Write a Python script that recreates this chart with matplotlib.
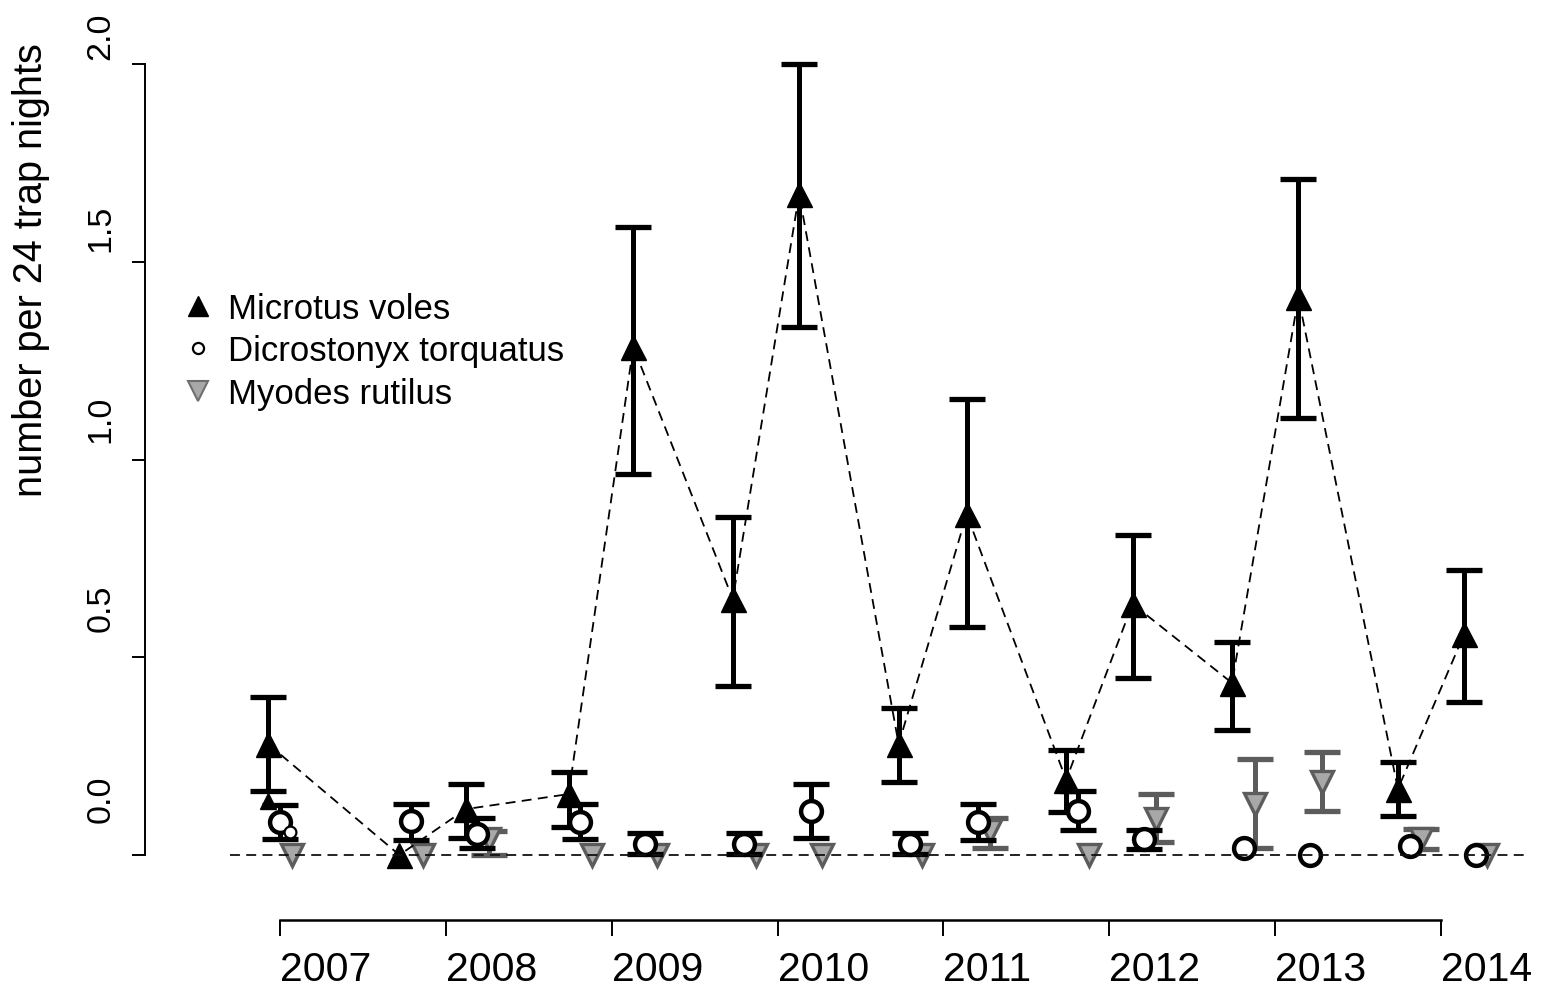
import numpy as np
import matplotlib
matplotlib.use("Agg")
from matplotlib import pyplot as plt
from matplotlib import font_manager
from matplotlib import transforms
from matplotlib.lines import Line2D

nan = np.nan

# sampling sessions (decimal year) and trapping indices
dates = [2006.93, 2007.72, 2008.12, 2008.74, 2009.13, 2009.73, 2010.13, 2010.73,
         2011.14, 2011.74, 2012.14, 2012.74, 2013.14, 2013.74, 2014.14]

microtus = [0.28, 0.0, 0.116, 0.154, 1.285, 0.647, 1.671, 0.28,
            0.862, 0.19, 0.635, 0.435, 1.41, 0.167, 0.559]
microtus_hi = [0.40, nan, 0.18, 0.21, 1.588, 0.855, 2.0, 0.372,
               1.153, 0.265, 0.81, 0.539, 1.709, 0.235, 0.72]
microtus_lo = [0.162, nan, 0.043, 0.071, 0.963, 0.427, 1.335, 0.185,
               0.576, 0.109, 0.448, 0.316, 1.105, 0.099, 0.387]

dicro = [0.083, 0.085, 0.053, 0.083, 0.028, 0.028, 0.111, 0.028,
         0.083, 0.111, 0.04, 0.018, 0.0, 0.023, 0.0]
dicro_hi = [0.126, 0.13, 0.094, 0.129, 0.055, 0.056, 0.18, 0.056,
            0.13, 0.162, 0.063, nan, nan, nan, nan]
dicro_lo = [0.04, 0.038, 0.018, 0.04, 0.003, 0.003, 0.043, 0.003,
            0.038, 0.063, 0.015, nan, nan, nan, nan]

myodes = [0.0, 0.0, 0.04, 0.0, 0.0, 0.0, 0.0, 0.0,
          0.06, 0.0, 0.091, 0.129, 0.185, 0.04, 0.0]
myodes_hi = [nan, nan, 0.06, nan, nan, nan, nan, nan,
             0.094, nan, 0.154, 0.243, 0.26, 0.066, nan]
myodes_lo = [nan, nan, 0.0, nan, nan, nan, nan, nan,
             0.018, nan, 0.033, 0.017, 0.112, 0.015, nan]

# two small leftover symbols at the first session
extra_microtus = [0.137]
extra_dicro = [0.058]

years = [2007, 2008, 2009, 2010, 2011, 2012, 2013, 2014]
yticks = [0.0, 0.5, 1.0, 1.5, 2.0]

names = {f.name for f in font_manager.fontManager.ttflist}
base = "Liberation Sans" if "Liberation Sans" in names else "DejaVu Sans"
narrow = "Liberation Sans Narrow" if "Liberation Sans Narrow" in names else base
year_size = 33 if narrow != base else 29.5
plt.rcParams["font.family"] = [base, "DejaVu Sans"]

W, H = 1543, 987
fig = plt.figure(figsize=(W / 100, H / 100), dpi=100)
ax = fig.add_axes([230 / W, 1 - 888 / H, 1300 / W, 855 / H])
px = 0.72  # points per pixel at dpi 100

d = np.array(dates)
dark_grey = "#5c5c5c"


def bars(x, m, lo, hi, color, z):
    m, lo, hi = np.array(m), np.array(lo), np.array(hi)
    ok = ~np.isnan(lo)
    ax.errorbar(x[ok], m[ok], yerr=[m[ok] - lo[ok], hi[ok] - m[ok]], fmt="none",
                ecolor=color, elinewidth=3.6, capsize=13.3, capthick=3.8, zorder=z)


# Myodes rutilus
bars(d + 0.14, myodes, myodes_lo, myodes_hi, dark_grey, 2)
ax.plot(d + 0.14, myodes, "v", ms=16, mfc="#a8a8a8", mec=dark_grey, mew=2.4,
        ls="none", zorder=2.5)

# Microtus voles
ax.plot(d, microtus, color="black", lw=1.3, dashes=(5.5, 3.5), zorder=3)
bars(d, microtus, microtus_lo, microtus_hi, "black", 3)
ax.plot(d, microtus, "^", ms=18, color="black", ls="none", zorder=3.5)
ax.plot(d[:1], extra_microtus, "^", ms=11, color="black", ls="none", zorder=3.5)

# Dicrostonyx torquatus
bars(d + 0.07, dicro, dicro_lo, dicro_hi, "black", 4)
ax.plot(d + 0.07, dicro, "o", ms=15, mfc="white", mec="black", mew=3.2,
        ls="none", zorder=4.5)
ax.plot(d[:1] + 0.13, extra_dicro, "o", ms=8.5, mfc="white", mec="black", mew=1.6,
        ls="none", zorder=4.6)

ax.axhline(0, color="#111111", lw=1.3, dashes=(5.5, 3.5), zorder=6)

ax.set_xlim(2007 - 50 / 165.86, 2007 + 1250 / 165.86)
ax.set_ylim(-32 / 395.5, 823 / 395.5)

for s in ["top", "right"]:
    ax.spines[s].set_visible(False)
ax.spines["left"].set_position(("outward", 85 * px))
ax.spines["left"].set_bounds(0, 2)
ax.spines["left"].set_linewidth(1.4)
ax.spines["bottom"].set_position(("outward", 33 * px))
ax.spines["bottom"].set_bounds(2007, 2014)
ax.spines["bottom"].set_linewidth(1.8)

ax.set_yticks(yticks)
ax.set_yticklabels([f"{v:.1f}" for v in yticks], rotation=90, va="center",
                   fontsize=24.5)
ax.tick_params(axis="y", length=13 * px, width=1.4, pad=11)
# in the original the tick labels sit a bit above their ticks
for tick, shift in zip(ax.yaxis.get_major_ticks(), [57, 50, 41, 34, 29]):
    lab = tick.label1
    lab.set_transform(lab.get_transform() +
                      transforms.ScaledTranslation(0, shift / 100, fig.dpi_scale_trans))

ax.set_xticks(years)
ax.set_xticklabels([str(y) for y in years], ha="left", fontsize=year_size,
                   family=[narrow, "DejaVu Sans"])
ax.tick_params(axis="x", length=16 * px, width=1.4, pad=10)

ax.set_ylabel("number per 24 trap nights", fontsize=28.5)
ax.yaxis.set_label_coords((50 - 230) / 1300, (888 - 270) / 855)

handles = [
    Line2D([], [], marker="^", ls="none", ms=14, color="black"),
    Line2D([], [], marker="o", ls="none", ms=8, mfc="white", mec="black", mew=1.6),
    Line2D([], [], marker="v", ls="none", ms=14, mfc="#a8a8a8", mec="#6e6e6e", mew=1.5),
]
labels = ["Microtus voles", "Dicrostonyx torquatus", "Myodes rutilus"]
ax.legend(handles, labels, loc="upper left", bbox_to_anchor=(181 / W, 1 - 293 / H),
          bbox_transform=fig.transFigure, frameon=False, fontsize=25,
          borderpad=0, borderaxespad=0, handlelength=1.0, handletextpad=0.35,
          labelspacing=0.27)

fig.savefig("out.png", dpi=100)
